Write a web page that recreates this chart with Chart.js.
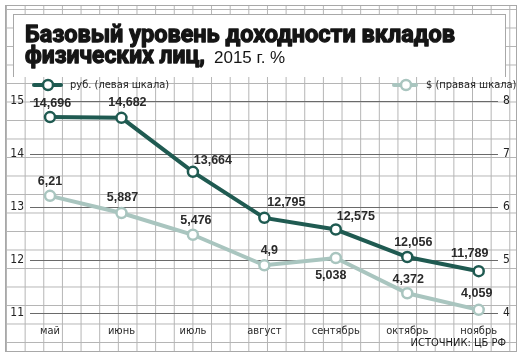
<!DOCTYPE html>
<html>
<head>
<meta charset="utf-8">
<script src="https://cdn.jsdelivr.net/npm/chart.js@4"></script>
<style>
  html, body { margin: 0; padding: 0; background: #fff; }
  #wrap { position: relative; width: 520px; height: 358px; overflow: hidden; }
  #paper {
    position: absolute; left: 5px; top: 5px; width: 510px; height: 345px;
    border: 1px solid #a8a8a8;
    background-image:
      linear-gradient(to right, #b4b4b4 1px, transparent 1px),
      linear-gradient(to bottom, #b4b4b4 1px, transparent 1px);
    background-size: 18.65px 18.5px;
    background-position: 0px 3px;
  }
  #titlebox {
    position: absolute; left: 13px; top: 14px; width: 491px; height: 62px;
    background: #fff; border: 1px solid #a8a8a8; border-bottom: none;
  }
  canvas { position: absolute; left: 0; top: 0; }
</style>
</head>
<body>
<div id="wrap">
  <div id="paper"></div>
  <div id="titlebox"></div>
  <canvas id="chart" width="520" height="358"></canvas>
</div>
<script>
const months = ['май', 'июнь', 'июль', 'август', 'сентябрь', 'октябрь', 'ноябрь'];
const rubRates = [14.696, 14.682, 13.664, 12.795, 12.575, 12.056, 11.789];
const usdRates = [6.21, 5.887, 5.476, 4.9, 5.038, 4.372, 4.059];
const leftTicks = [11, 12, 13, 14, 15];
const rightTicks = [4, 5, 6, 7, 8];

// where each value label sits relative to its point
const rubLabelShift = [[2, -14], [6, -15], [20, -11], [22, -15], [20, -13], [6, -14], [-9, -18]];
const usdLabelShift = [[0, -14], [1, -15], [3, -14], [5, -15], [-5, 18], [1, -14], [-2, -16]];

const rubColor = '#1f5a51';
const usdColor = '#a9c5bf';
const narrow = '"Liberation Sans Narrow", "DejaVu Sans Condensed", "Liberation Sans", sans-serif';

const fmt = v => String(v).replace('.', ',');

const extras = {
  id: 'extras',
  afterDatasetsDraw(chart) {
    const ctx = chart.ctx;
    ctx.save();
    ctx.font = 'bold 12.5px "Liberation Sans", Arial, sans-serif';
    ctx.fillStyle = '#2a2a2a';
    ctx.textAlign = 'center';
    ctx.textBaseline = 'middle';
    chart.data.datasets.forEach((ds, di) => {
      const shifts = di === 0 ? rubLabelShift : usdLabelShift;
      const vals = di === 0 ? rubRates : usdRates;
      chart.getDatasetMeta(di).data.forEach((pt, i) => {
        ctx.fillText(fmt(vals[i]), pt.x + shifts[i][0], pt.y + shifts[i][1]);
      });
    });
    ctx.restore();
  },
  afterDraw(chart) {
    const ctx = chart.ctx;
    ctx.save();
    // title, stroked as well to get the heavy look
    ctx.fillStyle = '#151515';
    ctx.strokeStyle = '#151515';
    ctx.lineWidth = 1.3;
    ctx.lineJoin = 'round';
    ctx.textBaseline = 'alphabetic';
    ctx.textAlign = 'left';
    ctx.font = 'bold 24px Roboto, "Liberation Sans", sans-serif';
    ctx.fillText('Базовый уровень доходности вкладов', 25, 42, 430);
    ctx.strokeText('Базовый уровень доходности вкладов', 25, 42, 430);
    ctx.fillText('физических лиц,', 25, 63, 180);
    ctx.strokeText('физических лиц,', 25, 63, 180);
    ctx.font = '17px "Liberation Sans", Arial, sans-serif';
    ctx.fillText('2015 г. %', 214, 63, 83);

    // legend
    const legendItem = (x1, x2, cx, color, text, tx) => {
      ctx.strokeStyle = color;
      ctx.lineWidth = 4;
      ctx.lineCap = 'round';
      ctx.beginPath(); ctx.moveTo(x1, 85); ctx.lineTo(x2, 85); ctx.stroke();
      ctx.fillStyle = '#fff';
      ctx.lineWidth = 2.5;
      ctx.beginPath(); ctx.arc(cx, 85, 5, 0, Math.PI * 2); ctx.fill(); ctx.stroke();
      ctx.fillStyle = '#222';
      ctx.font = '11px ' + narrow;
      ctx.textBaseline = 'middle';
      ctx.fillText(text, tx, 85);
    };
    legendItem(34, 61, 48, rubColor, 'руб. (левая шкала)', 70);
    legendItem(394, 416, 406, usdColor, '$ (правая шкала)', 426);

    // source
    ctx.fillStyle = '#1a1a1a';
    ctx.font = '11px ' + narrow;
    ctx.textAlign = 'right';
    ctx.fillText('ИСТОЧНИК: ЦБ РФ', 506, 343);
    ctx.restore();
  }
};

new Chart(document.getElementById('chart'), {
  type: 'line',
  data: {
    datasets: [
      {
        label: 'руб. (левая шкала)',
        data: months.map((m, i) => ({ x: i, y: rubRates[i] })),
        yAxisID: 'yL',
        borderColor: rubColor,
        borderWidth: 4,
        pointBackgroundColor: '#fff',
        pointBorderColor: rubColor,
        pointBorderWidth: 2.5,
        pointRadius: 5,
        tension: 0,
        clip: false
      },
      {
        label: '$ (правая шкала)',
        data: months.map((m, i) => ({ x: i, y: usdRates[i] })),
        yAxisID: 'yR',
        borderColor: usdColor,
        borderWidth: 4,
        pointBackgroundColor: '#fff',
        pointBorderColor: usdColor,
        pointBorderWidth: 2.5,
        pointRadius: 5,
        tension: 0,
        clip: false
      }
    ]
  },
  options: {
    responsive: false,
    animation: false,
    layout: { padding: { left: 0, right: 0, top: 101, bottom: 0 } },
    plugins: { legend: { display: false }, tooltip: { enabled: false } },
    scales: {
      x: {
        type: 'linear',
        min: -0.28,
        max: 6.27,
        afterBuildTicks: s => { s.ticks = months.map((m, i) => ({ value: i })); },
        afterFit: s => { s.height = 45; },
        grid: { display: false, drawTicks: false },
        border: { display: false },
        ticks: {
          autoSkip: false,
          maxRotation: 0,
          padding: 12,
          color: '#2a2a2a',
          font: { family: narrow, size: 11 },
          callback: v => months[v]
        }
      },
      yL: {
        position: 'left',
        min: 11,
        max: 15,
        afterBuildTicks: s => { s.ticks = leftTicks.map(v => ({ value: v })); },
        afterFit: s => { s.width = 30; },
        border: { display: false },
        grid: { color: '#6a6a6a', lineWidth: 1, borderDash: [2, 1], drawTicks: false },
        ticks: { padding: 6, color: '#222', font: { family: narrow, size: 12 } }
      },
      yR: {
        position: 'right',
        min: 4,
        max: 8,
        afterBuildTicks: s => { s.ticks = rightTicks.map(v => ({ value: v })); },
        afterFit: s => { s.width = 22; },
        border: { display: false },
        grid: { display: false, drawTicks: false },
        ticks: { padding: 5, color: '#222', font: { family: narrow, size: 12 } }
      }
    }
  },
  plugins: [extras]
});
</script>
</body>
</html>
